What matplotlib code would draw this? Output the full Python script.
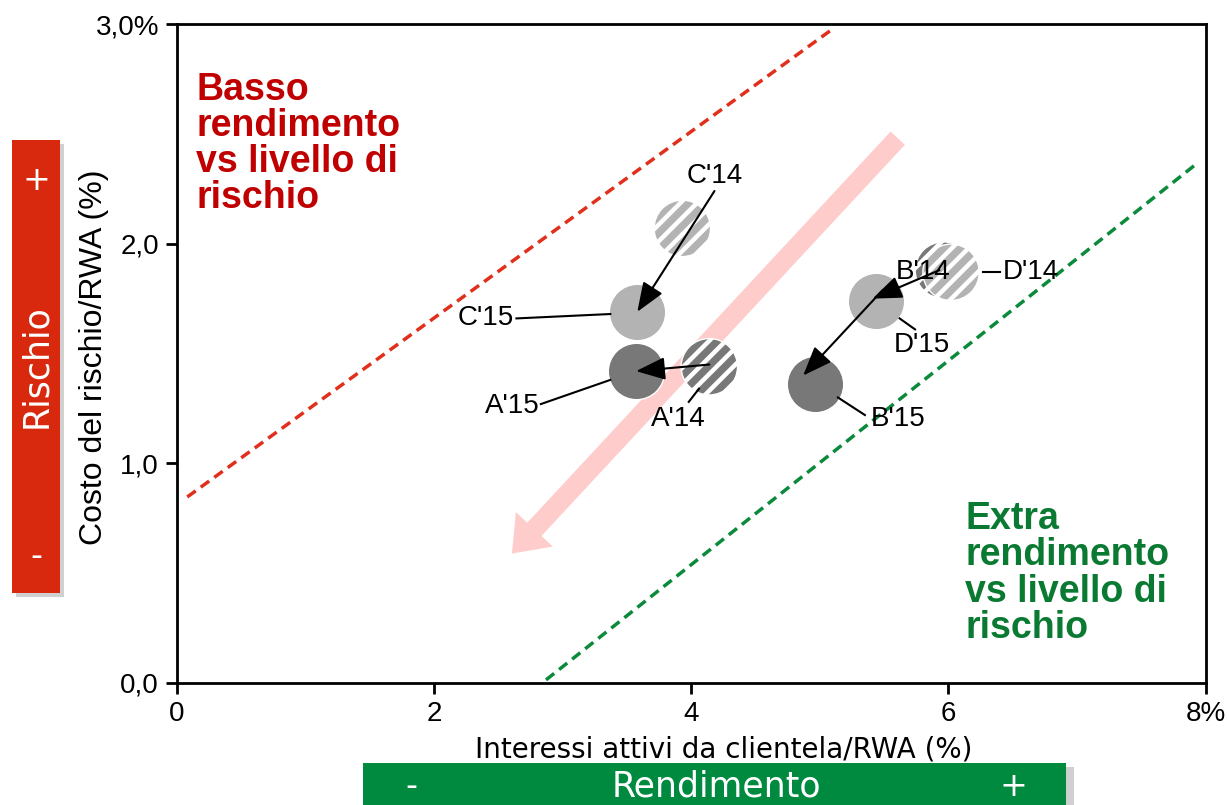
import matplotlib
matplotlib.use("Agg")
import matplotlib.pyplot as plt
from matplotlib.patches import Rectangle, FancyArrowPatch

plt.rcParams['hatch.color'] = 'white'
plt.rcParams['hatch.linewidth'] = 3.2

# Data
labels = ["A'14", "A'15", "B'14", "B'15", "C'14", "C'15", "D'14", "D'15"]
x_vals = [4.14, 3.57, 5.96, 4.96, 3.93, 3.58, 6.02, 5.44]
y_vals = [1.44, 1.42, 1.88, 1.36, 2.07, 1.69, 1.87, 1.74]
colors = ["#787878", "#787878", "#787878", "#787878", "#b3b3b3", "#b3b3b3", "#b3b3b3", "#b3b3b3"]
hatched = [True, False, True, False, True, False, True, False]

x_ticks = [0, 2, 4, 6, 8]
x_ticklabels = ["0", "2", "4", "6", "8%"]
y_ticks = [0, 1, 2, 3]
y_ticklabels = ["0,0", "1,0", "2,0", "3,0%"]

red_line_x = [0.08, 5.08]
red_line_y = [0.847, 2.97]
green_line_x = [2.87, 7.92]
green_line_y = [0.014, 2.36]

fig = plt.figure(figsize=(12.29, 8.05), dpi=100)
ax = fig.add_axes([0.144, 0.1516, 0.837, 0.8184])
ax.set_xlim(0, 8)
ax.set_ylim(0, 3)

for s in ax.spines.values():
    s.set_linewidth(2)
ax.set_xticks(x_ticks)
ax.set_xticklabels(x_ticklabels, fontfamily="Liberation Sans", fontsize=20)
ax.set_yticks(y_ticks)
ax.set_yticklabels(y_ticklabels, fontfamily="Liberation Sans", fontsize=20)
ax.tick_params(length=8, width=2, pad=5)

ax.set_xlabel("Interessi attivi da clientela/RWA (%)", fontfamily="DejaVu Sans", fontsize=20)
ax.xaxis.set_label_coords(0.531, -0.080)
ax.set_ylabel("Costo del rischio/RWA (%)", fontfamily="Liberation Sans", fontsize=23)
ax.yaxis.set_label_coords(-0.066, 0.495)

# dashed lines
ax.plot(red_line_x, red_line_y, linestyle=(0, (3, 1.8)), color="#e0301c", linewidth=2.5, zorder=1)
ax.plot(green_line_x, green_line_y, linestyle=(0, (3, 1.8)), color="#0c8a3c", linewidth=2.5, zorder=1)

# big pink arrow
pa = FancyArrowPatch((5.62, 2.49), (2.59, 0.58),
                     arrowstyle="simple,head_length=1.7,head_width=2.6,tail_width=1.0",
                     mutation_scale=14, color="#ffcccc", lw=0, zorder=1)
ax.add_patch(pa)

# circles
for xv, yv, c, h in zip(x_vals, y_vals, colors, hatched):
    ax.scatter([xv], [yv], s=1650, color=c, edgecolors="white", linewidths=1,
               hatch="//" if h else None, zorder=3)

idx = {l: i for i, l in enumerate(labels)}
def pt(l):
    return (x_vals[idx[l]], y_vals[idx[l]])

arrow_kw = dict(arrowstyle="-|>,head_length=0.9,head_width=0.35", color="black", lw=1.5,
                mutation_scale=20, shrinkA=0, shrinkB=0)

# movement arrows
ax.annotate("", xy=pt("C'15"), xytext=(4.18, 2.24), arrowprops=arrow_kw, zorder=4)
ax.annotate("", xy=pt("A'15"), xytext=(4.14, 1.45), arrowprops=arrow_kw, zorder=4)
ax.annotate("", xy=(4.87, 1.40), xytext=(5.49, 1.79), arrowprops=arrow_kw, zorder=4)
ax.annotate("", xy=(5.41, 1.75), xytext=(5.93, 1.88), arrowprops=arrow_kw, zorder=4)

lab_kw = dict(fontfamily="Liberation Sans", fontsize=20, color="black", zorder=5)

ax.text(4.18, 2.31, "C'14", ha="center", va="center", **lab_kw)
ax.text(2.62, 1.66, "C'15", ha="right", va="center", **lab_kw)
ax.plot([2.64, 3.37], [1.66, 1.68], color="black", lw=1.5, zorder=4)
ax.text(2.82, 1.26, "A'15", ha="right", va="center", **lab_kw)
ax.plot([2.83, 3.37], [1.27, 1.38], color="black", lw=1.5, zorder=4)
ax.text(3.9, 1.20, "A'14", ha="center", va="center", **lab_kw)
ax.plot([3.98, 4.06], [1.28, 1.34], color="black", lw=1.5, zorder=4)
ax.text(5.61, 1.20, "B'15", ha="center", va="center", **lab_kw)
ax.plot([5.35, 5.14], [1.22, 1.30], color="black", lw=1.5, zorder=4)
ax.text(5.8, 1.87, "B'14", ha="center", va="center", zorder=6, fontfamily="Liberation Sans", fontsize=20)
ax.text(5.79, 1.54, "D'15", ha="center", va="center", **lab_kw)
ax.plot([5.74, 5.62], [1.61, 1.66], color="black", lw=1.5, zorder=4)
ax.text(6.42, 1.87, "D'14", ha="left", va="center", **lab_kw)
ax.plot([6.27, 6.40], [1.87, 1.87], color="black", lw=1.5, zorder=4)

# annotations
ax.text(0.15, 2.78, "Basso\nrendimento\nvs livello di\nrischio", ha="left", va="top",
        fontfamily="Liberation Sans", fontweight="bold", fontsize=27, color="#c00000",
        linespacing=1.0, zorder=5)
ax.text(6.13, 0.83, "Extra\nrendimento\nvs livello di\nrischio", ha="left", va="top",
        fontfamily="Liberation Sans", fontweight="bold", fontsize=27, color="#0a7a32",
        linespacing=1.02, zorder=5)

# red side box
W, H = 1229, 805
def fx(p): return p / W
def fy(p): return 1 - p / H
fig.patches.append(Rectangle((fx(16), fy(597)), fx(60) - fx(12), (593 - 140) / H,
                             transform=fig.transFigure, facecolor="#d0d0d0", edgecolor="none", zorder=0))
fig.patches.append(Rectangle((fx(12), fy(593)), fx(60) - fx(12), (593 - 140) / H,
                             transform=fig.transFigure, facecolor="#d8290e", edgecolor="none", zorder=1))
fig.text(fx(36), fy(181), "+", ha="center", va="center", color="white", fontsize=24, fontfamily="DejaVu Sans")
fig.text(fx(36), fy(366), "Rischio", ha="center", va="center", color="white", fontsize=25,
         fontfamily="DejaVu Sans", rotation=90)
fig.text(fx(36), fy(556), "-", ha="center", va="center", color="white", fontsize=24, fontfamily="DejaVu Sans")

# green bottom box
fig.patches.append(Rectangle((fx(367), 0), fx(1070) - fx(363), (805 - 767) / H,
                             transform=fig.transFigure, facecolor="#d0d0d0", edgecolor="none", zorder=0))
fig.patches.append(Rectangle((fx(363), 0), fx(1066) - fx(363), (805 - 763) / H,
                             transform=fig.transFigure, facecolor="#008a40", edgecolor="none", zorder=1))
fig.text(fx(411), fy(786), "-", ha="center", va="center", color="white", fontsize=24, fontfamily="DejaVu Sans")
fig.text(fx(716), fy(786), "Rendimento", ha="center", va="center", color="white", fontsize=25, fontfamily="DejaVu Sans")
fig.text(fx(1013), fy(786), "+", ha="center", va="center", color="white", fontsize=24, fontfamily="DejaVu Sans")

fig.savefig("out.png", dpi=100)
